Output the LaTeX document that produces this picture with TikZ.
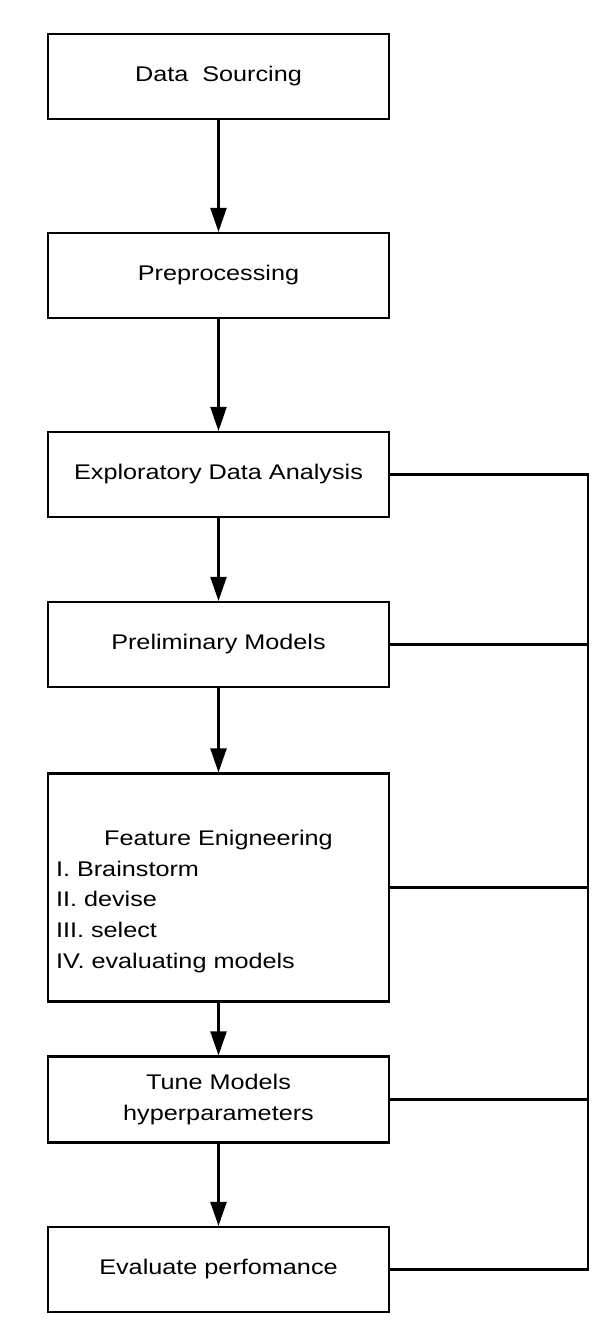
\documentclass[tikz,border=0pt]{standalone}
\usepackage{fontspec}
\setmainfont{Liberation Sans}[FakeStretch=1.19]
\usetikzlibrary{arrows.meta}
\begin{document}
\begin{tikzpicture}[x=1pt,y=-1pt,
  box/.style={draw=black, line width=2.2pt, rectangle, minimum width=341pt, inner sep=0pt, align=center,
    font=\fontsize{21.2}{30.75}\selectfont},
  flow/.style={line width=2.3pt, -{Triangle[width=16pt,length=24pt]}},
  link/.style={line width=2.2pt}]
\useasboundingbox (0,0) rectangle (608,1334);
\node[box, minimum height=85pt] (ds)  at (218.5,76.5)  {Data~~Sourcing};
\node[box, minimum height=85pt] (pre) at (218.5,275.5) {Preprocessing};
\node[box, minimum height=85pt] (eda) at (218.5,474.5) {Exploratory Data Analysis};
\node[box, minimum height=85pt] (pm)  at (218.5,644.5) {Preliminary Models};
\node[box, minimum height=228pt] (fe) at (218.5,887.5) {};
\node[inner sep=0pt, font=\fontsize{21.2}{30.75}\selectfont] (fetext) at (218.5,901.5) {%
  \begin{minipage}{325pt}\centering Feature Enigneering\par\raggedright
  I. Brainstorm\\II. devise\\III. select\\IV. evaluating models\end{minipage}};
\node[box, minimum height=86pt] (tune) at (218.5,1099.5) {Tune Models\\hyperparameters};
\node[box, minimum height=85pt] (ev)  at (218.5,1269.5) {Evaluate perfomance};
\draw[flow] (ds) -- (pre);
\draw[flow] (pre) -- (eda);
\draw[flow] (eda) -- (pm);
\draw[flow] (pm) -- (fe);
\draw[flow] (fe) -- (tune);
\draw[flow] (tune) -- (ev);
\coordinate (railtop) at (588,474.5);
\coordinate (railbot) at (588,1269.5);
\draw[link, line join=miter] (eda.east) -- (railtop) -- (railbot) -- (ev.east);
\draw[link] (pm.east) -- (pm.east -| railtop);
\draw[link] (fe.east) -- (fe.east -| railtop);
\draw[link] (tune.east) -- (tune.east -| railtop);
\end{tikzpicture}
\end{document}
